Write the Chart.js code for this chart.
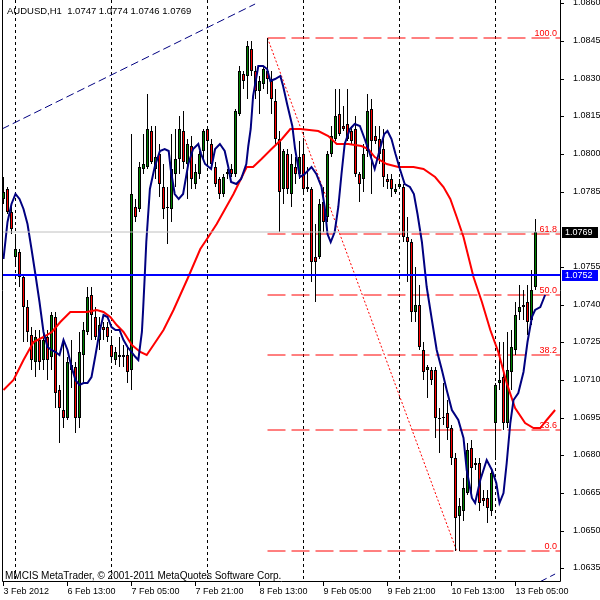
<!DOCTYPE html>
<html>
<head>
<meta charset="utf-8">
<title>AUDUSD H1</title>
<script src="https://cdn.jsdelivr.net/npm/chart.js@4/dist/chart.umd.min.js"></script>
<style>
  html, body { margin:0; padding:0; background:#fff; }
  #wrap { position:relative; width:600px; height:600px; overflow:hidden; }
  #c { position:absolute; left:0; top:0; }
  .txt { position:absolute; font-family:"Liberation Sans", Arial, sans-serif; color:#000; white-space:pre; line-height:1; }
</style>
</head>
<body>
<div id="wrap">
  <canvas id="c" width="600" height="600"></canvas>
  <div id="title" class="txt" style="left:7px; top:6px; font-size:9.5px;"></div>
  <div id="copy" class="txt" style="left:5px; top:571px; font-size:10px;"></div>
</div>
<script>
const symbol = 'AUDUSD,H1';
const copyright = 'MMCIS MetaTrader, \u00A9 2001-2011 MetaQuotes Software Corp.';

// hourly candles, bar 0 = 3 Feb 2012 21:00 ... bar 133 = 13 Feb 10:00
const opens = [
 1.0782,1.0786,1.0777,1.0759,1.0761,1.0751,1.0739,1.0728,1.0717,1.0726,
 1.0718,1.0727,1.0719,1.0735,1.0706,1.0698,1.0695,1.0716,1.0715,1.0695,
 1.0720,1.0729,1.0744,1.0735,1.0726,1.0731,1.0731,1.0724,1.0718,1.0720,
 1.0719,1.0720,1.0714,1.0779,1.0778,1.0794,1.0795,1.0809,1.0794,1.0800,
 1.0787,1.0779,1.0778,1.0792,1.0798,1.0809,1.0796,1.0803,1.0788,1.0792,
 1.0801,1.0810,1.0804,1.0795,1.0790,1.0784,1.0793,1.0794,1.0792,1.0816,
 1.0832,1.0831,1.0842,1.0833,1.0825,1.0828,1.0833,1.0829,1.0821,1.0806,
 1.0786,1.0800,1.0784,1.0795,1.0792,1.0800,1.0787,1.0786,1.0759,1.0759,
 1.0781,1.0775,1.0800,1.0806,1.0816,1.0811,1.0812,1.0809,1.0810,1.0792,
 1.0790,1.0801,1.0818,1.0807,1.0806,1.0802,1.0790,1.0790,1.0785,1.0787,
 1.0787,1.0767,1.0765,1.0737,1.0740,1.0722,1.0714,1.0714,1.0714,1.0695,
 1.06952,1.0697,1.0691,1.0679,1.0656,1.0658,1.0665,1.0683,1.0676,1.0677,
 1.0663,1.0663,1.0658,1.0693,1.0709,1.0711,1.0693,1.0713,1.0722,1.0737,
 1.0740,1.0741,1.0734,1.0747];
const highs = [
 1.0791,1.0787,1.0780,1.0767,1.0762,1.0752,1.0742,1.0731,1.0730,1.0730,
 1.0729,1.0730,1.0737,1.0737,1.0708,1.0726,1.0719,1.0726,1.0717,1.0729,
 1.0733,1.0747,1.0747,1.0739,1.0735,1.0733,1.0733,1.0727,1.0723,1.0727,
 1.0724,1.0723,1.0808,1.0782,1.0797,1.0808,1.0824,1.0811,1.0811,1.0804,
 1.0796,1.0787,1.0808,1.0810,1.0815,1.0817,1.0806,1.0807,1.0796,1.0801,
 1.0810,1.0811,1.0806,1.0797,1.0791,1.0792,1.0794,1.0796,1.0818,1.0835,
 1.0833,1.0845,1.0845,1.0835,1.0831,1.0835,1.0846,1.0833,1.0826,1.0809,
 1.0802,1.0802,1.0800,1.0799,1.0805,1.0805,1.0795,1.0787,1.0772,1.0782,
 1.0787,1.0801,1.0811,1.0826,1.0826,1.0819,1.0826,1.0811,1.0815,1.0793,
 1.0804,1.0824,1.0822,1.0811,1.0811,1.0810,1.0792,1.0792,1.0788,1.0790,
 1.0788,1.0775,1.0766,1.0755,1.0748,1.0725,1.0716,1.0715,1.0715,1.0699,
 1.0709,1.0702,1.0692,1.0681,1.0663,1.0671,1.0685,1.0686,1.0679,1.0679,
 1.0666,1.0666,1.0675,1.0709,1.0725,1.0725,1.0729,1.0730,1.0741,1.0748,
 1.0746,1.0748,1.0754,1.0774];
const lows = [
 1.0780,1.0776,1.0768,1.0755,1.0747,1.0725,1.0725,1.0714,1.0711,1.0714,
 1.0714,1.0710,1.0714,1.0699,1.0685,1.0691,1.0694,1.0707,1.0689,1.0691,
 1.0709,1.0728,1.0726,1.0726,1.0722,1.0726,1.0725,1.0718,1.0716,1.0715,
 1.0715,1.0709,1.0706,1.0773,1.0777,1.0792,1.0794,1.0796,1.0790,1.0783,
 1.0774,1.0764,1.0773,1.0787,1.0792,1.0794,1.0782,1.0786,1.0786,1.0790,
 1.0798,1.0797,1.0794,1.0787,1.0782,1.0783,1.0790,1.0791,1.0791,1.0815,
 1.0826,1.0822,1.0831,1.0822,1.0816,1.0826,1.0824,1.0816,1.0804,1.0769,
 1.0780,1.0784,1.0779,1.0788,1.0790,1.0785,1.0785,1.0749,1.0741,1.0758,
 1.0769,1.0773,1.0799,1.0805,1.0807,1.0809,1.0805,1.0804,1.0791,1.0781,
 1.0785,1.0799,1.0784,1.0804,1.0796,1.0787,1.0786,1.0783,1.0784,1.0786,
 1.0765,1.0749,1.0733,1.0733,1.0722,1.0710,1.0703,1.0708,1.0687,1.0681,
 1.0692,1.0686,1.0676,1.0642,1.0642,1.0654,1.0664,1.0665,1.0674,1.0658,
 1.0660,1.0653,1.0656,1.0678,1.0706,1.0690,1.0691,1.0706,1.0720,1.0734,
 1.0734,1.0728,1.0732,1.0746];
const closes = [
 1.0785,1.0777,1.0770,1.0762,1.0751,1.0739,1.0729,1.0718,1.0727,1.0717,
 1.0726,1.0718,1.0736,1.0705,1.0699,1.0695,1.0717,1.0714,1.0695,1.0721,
 1.0730,1.0743,1.0736,1.0727,1.0732,1.0730,1.0727,1.0719,1.0721,1.0719,
 1.0720,1.0713,1.0784,1.0775,1.0795,1.0796,1.0810,1.0797,1.0799,1.0788,
 1.0778,1.07786,1.0794,1.0798,1.0810,1.0797,1.0804,1.0790,1.0793,1.0800,
 1.0809,1.0805,1.0796,1.0788,1.0784,1.0791,1.0792,1.0792,1.0817,1.0833,
 1.0829,1.0843,1.0833,1.0825,1.0829,1.0834,1.0830,1.0822,1.0806,1.0785,
 1.0801,1.0786,1.0796,1.0792,1.0799,1.0786,1.0786,1.0757,1.0757,1.0780,
 1.0773,1.0800,1.0807,1.0815,1.0808,1.0810,1.0806,1.0805,1.0792,1.0788,
 1.0800,1.0817,1.0805,1.0805,1.0800,1.0791,1.0789,1.0786,1.0786,1.0788,
 1.0767,1.0765,1.0737,1.0740,1.0723,1.0713,1.0715,1.0710,1.0695,1.06946,
 1.06948,1.0691,1.0679,1.0655,1.0660,1.0667,1.0682,1.0675,1.0677,1.0661,
 1.0662,1.0659,1.0673,1.0708,1.0710,1.0693,1.0714,1.0723,1.0736,1.0739,
 1.0739,1.0733,1.0746,1.0769];

// fast moving average (navy): [bar, price]
const maFast = [
 [0,1.0758],[1,1.0773],[2,1.0780],[3,1.0784],[4,1.0782],[5,1.0778],[6,1.0772],[7,1.0762],[8,1.0752],[9,1.0741],
 [10,1.0729],[11,1.0723],[12,1.0722],[13,1.0721],[14,1.0720],[15,1.0726],[16,1.0722],[17,1.0715],[18,1.0710],[19,1.0708],
 [20,1.0709],[21,1.0709],[22,1.0711],[23,1.0720],[24,1.0729],[25,1.0736],[26,1.0735],[27,1.0731],[28,1.0730],[29,1.0730],
 [30,1.0726],[31,1.0723],[32,1.0721],[33,1.0719],[33.7,1.0718],[34.6,1.0729],[34.9,1.0738],[35.3,1.0751],[35.7,1.0765],[36.6,1.0786],
 [37.8,1.0795],[39.1,1.0801],[40.3,1.0802],[41.3,1.0801],[41.8,1.0794],[42.8,1.0784],[43.8,1.0782],[44.9,1.0784],[46.2,1.0796],[47.4,1.0802],
 [48.7,1.0804],[49.4,1.0800],[50.4,1.0796],[51.9,1.0794],[52.9,1.0802],[54.1,1.0804],[55.3,1.0801],[56.2,1.0795],[56.9,1.0789],[58.2,1.0788],
 [59.4,1.0790],[60.7,1.0796],[61.2,1.0803],[61.8,1.0810],[62.4,1.0823],[63.7,1.0835],[64.9,1.0835],[65.9,1.0834],[66.7,1.0829],[67.9,1.0830],
 [69.2,1.0831],[69.9,1.0827],[70.9,1.0820],[72.2,1.0811],[72.9,1.0802],[74.1,1.0791],[75.3,1.0792],[77,1.0795],[78.2,1.0792],[79.5,1.0787],
 [80.3,1.0779],[81,1.0768],[81.8,1.0765],[82.8,1.0769],[83.7,1.0779],[84.5,1.0792],[85.3,1.0804],[86.6,1.0810],[87.8,1.0812],[89.1,1.0811],
 [90.3,1.0806],[91.6,1.0800],[92.8,1.0794],[94.1,1.0802],[95.2,1.0808],[96,1.0809],[97,1.0806],[98,1.0800],[99.1,1.0794],[100.3,1.0788],
 [101.6,1.0787],[102.6,1.0784],[103.5,1.0776],[104.6,1.0765],[105.8,1.0747],[107.1,1.0734],[108.3,1.0722],[109.6,1.0714],[110.8,1.0706],[112.1,1.0698],
 [113.7,1.0694],[115,1.0687],[115.8,1.0674],[117.1,1.0663],[117.9,1.0661],[119.2,1.0670],[120.8,1.0678],[122.1,1.0674],[123.2,1.0669],[124,1.0661],
 [125,1.0665],[125.8,1.0677],[126.7,1.0693],[127.5,1.0702],[128.7,1.0705],[130,1.0713],[131,1.0725],[132.1,1.0735],[132.9,1.0738],[134.2,1.0739],
 [135.4,1.0744]];

// slow moving average (red): [bar, price]
const maSlow = [
 [0,1.0706],[2.5,1.0710],[5,1.0718],[7.5,1.0725],[10,1.0727],[12.1,1.0729],[14.2,1.0733],[16.7,1.0737],[18.7,1.0737],[20.8,1.0737],
 [23.3,1.0738],[25,1.0737],[26.7,1.0735],[28.3,1.0732],[30,1.0729],[32.1,1.0724],[34.2,1.0721],[35.8,1.0720],[37.5,1.0724],[40,1.0730],
 [42.5,1.0738],[46.2,1.0751],[49.2,1.0762],[51.2,1.0767],[53.3,1.0772],[57.5,1.0784],[60.8,1.0795],[62.4,1.0795],[64.5,1.0798],[67,1.0802],
 [69.6,1.0806],[71.7,1.0810],[74.2,1.0810],[78.7,1.0809],[81.2,1.0807],[83.3,1.0804],[86.2,1.0804],[89.5,1.0803],[91.2,1.0802],[92.8,1.0799],
 [95.8,1.0796],[98.7,1.0795],[102.5,1.0795],[105,1.0794],[107.9,1.0791],[110,1.0787],[111.7,1.0782],[113.3,1.0775],[115,1.0767],[117.5,1.0751],
 [119.6,1.0741],[121.7,1.0730],[123.7,1.0721],[125.8,1.0709],[127.9,1.0699],[130.4,1.0693],[132.5,1.0691],[134.2,1.0691],[135.8,1.0694],[137.9,1.0698]];

const xTickBars = [0, 16, 32, 48, 64, 80, 96, 112, 128];
const xTickLabels = ['3 Feb 2012','6 Feb 13:00','7 Feb 05:00','7 Feb 21:00','8 Feb 13:00','9 Feb 05:00','9 Feb 21:00','10 Feb 13:00','13 Feb 05:00'];
const daySeparatorBars = [3, 27, 51, 75, 99, 123];
const yTickValues = [1.0860,1.0845,1.0830,1.0815,1.0800,1.0785,1.0755,1.0740,1.0725,1.0710,1.0695,1.0680,1.0665,1.0650,1.0635];

const bidPrice = 1.0769;
const levelPrice = 1.0752;

const fibLabels = ['0.0','23.6','38.2','50.0','61.8','100.0'];
const fibPrices = [1.0642, 1.0690, 1.0720, 1.0744, 1.0768, 1.0846];
const fibBars = [66, 113.3];            // high bar -> low bar
const fibEnds = [1.0846, 1.0642];

const trendBars = [-0.4, 62.9];
const trendPrices = [1.08098, 1.08596];
const trend2Bars = [134, 137.9];
const trend2Prices = [1.06295, 1.06327];

// ---------------------------------------------------------------
const N = opens.length;
const idx = opens.map((_, i) => i);
document.getElementById('title').textContent =
  symbol + '  ' + [opens[N-1], highs[N-1], lows[N-1], closes[N-1]].map(v => v.toFixed(4)).join(' ');
document.getElementById('copy').textContent = copyright;

const xMin = -0.375, xMax = 139.125;
const yMin = 1.062995, yMax = 1.086133;
const FONT = '"Liberation Sans", Arial, sans-serif';

const hline = (price, from, color, width, dash, order) => ({
  type: 'line', data: [{x: from, y: price}, {x: xMax, y: price}],
  borderColor: color, borderWidth: width, borderDash: dash, pointRadius: 0, order
});

const datasets = [
  hline(levelPrice, xMin, '#0000ff', 2, [], 0),
  hline(bidPrice, xMin, '#c0c0c0', 1, [], 1),
  { type: 'line', data: maFast.map(p => ({x: p[0], y: p[1]})), borderColor: '#000080', borderWidth: 2,
    pointRadius: 0, tension: 0, order: 2 },
  { type: 'line', data: maSlow.map(p => ({x: p[0], y: p[1]})), borderColor: '#ff0000', borderWidth: 2,
    pointRadius: 0, tension: 0, order: 3 },
  { type: 'bar', data: idx.map(i => ({x: i, y: [opens[i], closes[i]]})),
    backgroundColor: idx.map(i => closes[i] >= opens[i] ? '#008000' : '#ff0000'),
    borderColor: '#000000', borderWidth: 1, borderSkipped: false, barThickness: 3,
    grouped: false, inflateAmount: 0, order: 4 },
  { type: 'bar', data: idx.map(i => ({x: i, y: [lows[i], highs[i]]})),
    backgroundColor: '#000000', borderWidth: 0, barThickness: 1,
    grouped: false, inflateAmount: 0, order: 5 },
  ...fibPrices.map(p => hline(p, fibBars[0], '#ff0000', 1, [18, 6], 6)),
  { type: 'line', data: fibBars.map((b, k) => ({x: b, y: fibEnds[k]})), borderColor: '#ff0000',
    borderWidth: 1, borderDash: [2, 2], pointRadius: 0, order: 6 },
  { type: 'line', data: trendBars.map((b, k) => ({x: b, y: trendPrices[k]})), borderColor: '#000080',
    borderWidth: 1, borderDash: [8, 4], pointRadius: 0, order: 6 },
  { type: 'line', data: trend2Bars.map((b, k) => ({x: b, y: trend2Prices[k]})), borderColor: '#000080',
    borderWidth: 1, borderDash: [8, 4], pointRadius: 0, order: 6 }
];

const frame = {
  id: 'frame',
  beforeDatasetsDraw(chart) {
    const {ctx, chartArea: a, scales: {x}} = chart;
    ctx.save();
    ctx.strokeStyle = '#000'; ctx.lineWidth = 1; ctx.setLineDash([3, 3]);
    daySeparatorBars.forEach(b => {
      const px = Math.floor(x.getPixelForValue(b)) + 0.5;
      ctx.beginPath(); ctx.moveTo(px, a.top); ctx.lineTo(px, a.bottom); ctx.stroke();
    });
    ctx.restore();
  },
  afterDraw(chart) {
    const {ctx, chartArea: a, scales: {x, y}} = chart;
    ctx.save();
    ctx.strokeStyle = '#000'; ctx.lineWidth = 1; ctx.setLineDash([]);
    ctx.beginPath();
    ctx.moveTo(a.left + 0.5, a.top); ctx.lineTo(a.left + 0.5, a.bottom + 0.5);
    ctx.lineTo(a.right + 0.5, a.bottom + 0.5); ctx.lineTo(a.right + 0.5, a.top);
    y.ticks.forEach(t => {
      const py = Math.round(y.getPixelForValue(t.value)) + 0.5;
      ctx.moveTo(a.right, py); ctx.lineTo(a.right + 4, py);
    });
    x.ticks.forEach(t => {
      const px = Math.floor(x.getPixelForValue(t.value)) + 0.5;
      ctx.moveTo(px, a.bottom); ctx.lineTo(px, a.bottom + 5);
    });
    ctx.stroke();

    ctx.font = '9px ' + FONT;
    ctx.fillStyle = '#ff0000'; ctx.textAlign = 'right'; ctx.textBaseline = 'alphabetic';
    fibPrices.forEach((p, k) => ctx.fillText(fibLabels[k], a.right - 3, y.getPixelForValue(p) - 2));

    const tag = (price, bg) => {
      const py = Math.round(y.getPixelForValue(price));
      ctx.fillStyle = bg; ctx.fillRect(a.right + 2, py - 5, 36, 11);
      ctx.fillStyle = '#fff'; ctx.textAlign = 'left'; ctx.textBaseline = 'middle';
      ctx.fillText(price.toFixed(4), a.right + 5, py + 0.5);
    };
    tag(bidPrice, '#000000');
    tag(levelPrice, '#0000ff');
    ctx.restore();
  }
};

new Chart(document.getElementById('c'), {
  type: 'bar',
  data: { datasets },
  options: {
    responsive: false, animation: false, devicePixelRatio: 1, events: [],
    layout: { padding: { left: 2, top: 0, right: 0, bottom: 0 } },
    plugins: { legend: { display: false }, tooltip: { enabled: false }, title: { display: false } },
    scales: {
      x: {
        type: 'linear', min: xMin, max: xMax, offset: false,
        grid: { display: false }, border: { display: false },
        afterBuildTicks: s => { s.ticks = xTickBars.map(v => ({ value: v })); },
        afterFit: s => { s.height = 19; s.paddingLeft = 0; s.paddingRight = 0; },
        ticks: { autoSkip: false, maxRotation: 0, minRotation: 0, align: 'start', padding: -3,
                 color: '#000', font: { family: FONT, size: 9 },
                 callback: (v, i) => xTickLabels[i] }
      },
      y: {
        type: 'linear', position: 'right', min: yMin, max: yMax, alignToPixels: true,
        grid: { display: false }, border: { display: false },
        afterBuildTicks: s => { s.ticks = yTickValues.map(v => ({ value: v })); },
        afterFit: s => { s.width = 40; s.paddingTop = 0; s.paddingBottom = 0; },
        ticks: { autoSkip: false, padding: 5, color: '#000', font: { family: FONT, size: 9 },
                 callback: v => Number(v).toFixed(4) }
      }
    }
  },
  plugins: [frame]
});
</script>
</body>
</html>
